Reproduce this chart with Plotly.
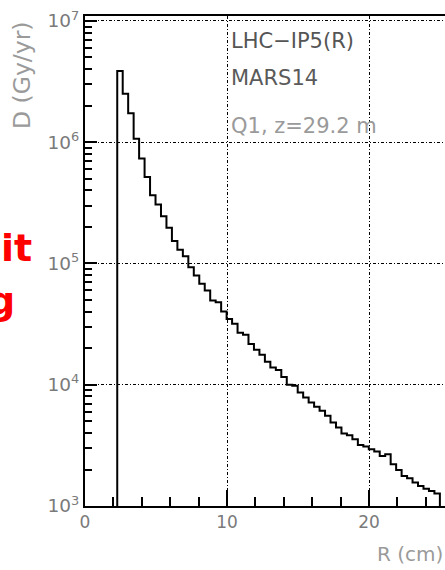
import numpy as np
import plotly.graph_objects as go

# ---------------- data ----------------
R_LOW = 2.27        # cm, left edge of first filled bin
R_HIGH = 24.99      # cm, right edge of last bin
N_BINS = 59
dose = [3.86e6, 2.51e6, 1.73e6, 1.07e6, 7.33e5, 5.17e5, 3.65e5, 3.06e5, 2.45e5, 1.97e5,
        1.53e5, 1.30e5, 1.15e5, 9.32e4, 7.96e4, 6.80e4, 5.98e4, 4.95e4, 4.79e4, 4.01e4,
        3.49e4, 3.18e4, 2.68e4, 2.59e4, 2.17e4, 1.94e4, 1.77e4, 1.55e4, 1.39e4, 1.32e4,
        1.16e4, 1.00e4, 9.81e3, 8.64e3, 7.85e3, 7.14e3, 6.58e3, 6.10e3, 5.54e3, 4.88e3,
        4.44e3, 3.96e3, 3.84e3, 3.56e3, 3.18e3, 3.09e3, 2.94e3, 2.81e3, 2.59e3, 2.67e3,
        2.21e3, 1.98e3, 1.77e3, 1.69e3, 1.56e3, 1.46e3, 1.39e3, 1.33e3, 1.27e3]
y_tick_vals = [1e3, 1e4, 1e5, 1e6, 1e7]
y_tick_text = ["10<sup>3</sup>", "10<sup>4</sup>", "10<sup>5</sup>", "10<sup>6</sup>", "10<sup>7</sup>"]
x_tick_vals = [0, 10, 20]
x_tick_text = ["0", "10", "20"]
info_lines = ["LHC\u2212IP5(R)", "MARS14", "Q1, z=29.2 m"]
x_title = "R (cm)"
y_title = "D (Gy/yr)"
Y_MIN_LOG, Y_MAX_LOG = 3.0, 7.041
X_MAX = 25.35

# ---------------- histogram outline ----------------
edges = np.linspace(R_LOW, R_HIGH, N_BINS + 1)
base = 10 ** Y_MIN_LOG
hx = [edges[0]] + list(edges[:-1]) + [edges[-1], edges[-1]]
hy = [base] + list(dose) + [dose[-1], base]

W, H = 445, 570
ML, MR, MT, MB = 85, 0, 16, 64
PW, PH = W - ML - MR, H - MT - MB

def px_x(px):
    return (px - ML) / PW

def px_y(py):
    return 1 - (py - MT) / PH

FONT = "DejaVu Sans"
LABEL_GRAY = "#7a7a7a"

fig = go.Figure()
fig.add_trace(go.Scatter(x=hx, y=hy, mode="lines", line=dict(color="black", width=2, shape="hv"),
                         showlegend=False, hoverinfo="skip", cliponaxis=True))

minor_y = [k * 10 ** e for e in range(3, 7) for k in range(2, 10)]

fig.update_layout(
    width=W, height=H,
    margin=dict(l=ML, r=MR, t=MT, b=MB, pad=0),
    paper_bgcolor="white", plot_bgcolor="white",
    font=dict(family=FONT, color=LABEL_GRAY),
    xaxis=dict(range=[0, X_MAX], tickmode="array", tickvals=x_tick_vals, ticktext=x_tick_text,
               ticks="inside", ticklen=16, tickwidth=1.5, tickcolor="black",
               showline=True, linecolor="black", linewidth=2, mirror=True,
               showgrid=True, gridcolor="black", gridwidth=1, griddash="3px,2px,1px,2px",
               zeroline=False, tickfont=dict(size=17, color=LABEL_GRAY, family=FONT),
               minor=dict(dtick=2, tick0=0, ticks="inside", ticklen=9, tickwidth=1.5,
                          tickcolor="black", showgrid=False)),
    yaxis=dict(type="log", range=[Y_MIN_LOG, Y_MAX_LOG], tickmode="array",
               tickvals=y_tick_vals, ticktext=y_tick_text,
               ticks="inside", ticklen=12, tickwidth=1.5, tickcolor="black",
               showline=True, linecolor="black", linewidth=2, mirror=False,
               showgrid=True, gridcolor="black", gridwidth=1, griddash="3px,2px,1px,2px",
               zeroline=False, tickfont=dict(size=18.5, color=LABEL_GRAY, family=FONT),
               minor=dict(tickmode="array", tickvals=minor_y, ticks="inside", ticklen=7,
                          tickwidth=1.5, tickcolor="black", showgrid=False)),
)

ann = []
# info box text
info_y = [40.6, 77.6, 125.6]
info_col = ["#555555", "#5a5a5a", "#9a9a9a"]
for t, yy, c in zip(info_lines, info_y, info_col):
    ann.append(dict(text=t, xref="paper", yref="paper", x=px_x(229), y=px_y(yy),
                    xanchor="left", yanchor="middle", showarrow=False,
                    font=dict(family=FONT, size=21, color=c)))
# axis titles
ann.append(dict(text=x_title, xref="paper", yref="paper", x=1.0, y=px_y(554),
                xanchor="right", yanchor="middle", showarrow=False,
                font=dict(family=FONT, size=20, color="#9a9a9a")))
ann.append(dict(text=y_title, xref="paper", yref="paper", x=px_x(22), y=px_y(19),
                xanchor="center", yanchor="top", textangle=-90, showarrow=False,
                font=dict(family=FONT, size=23.5, color="#9a9a9a")))
# red overlay text fragments
ann.append(dict(text="it", xref="paper", yref="paper", x=px_x(34), y=px_y(248),
                xanchor="right", yanchor="middle", showarrow=False,
                font=dict(family="DejaVu Sans", size=38, color="#ff0000", weight="bold")))
ann.append(dict(text="g", xref="paper", yref="paper", x=px_x(17), y=px_y(301),
                xanchor="right", yanchor="middle", showarrow=False,
                font=dict(family="DejaVu Sans", size=38, color="#ff0000", weight="bold")))
fig.update_layout(annotations=ann)

fig.write_html("out.html")
